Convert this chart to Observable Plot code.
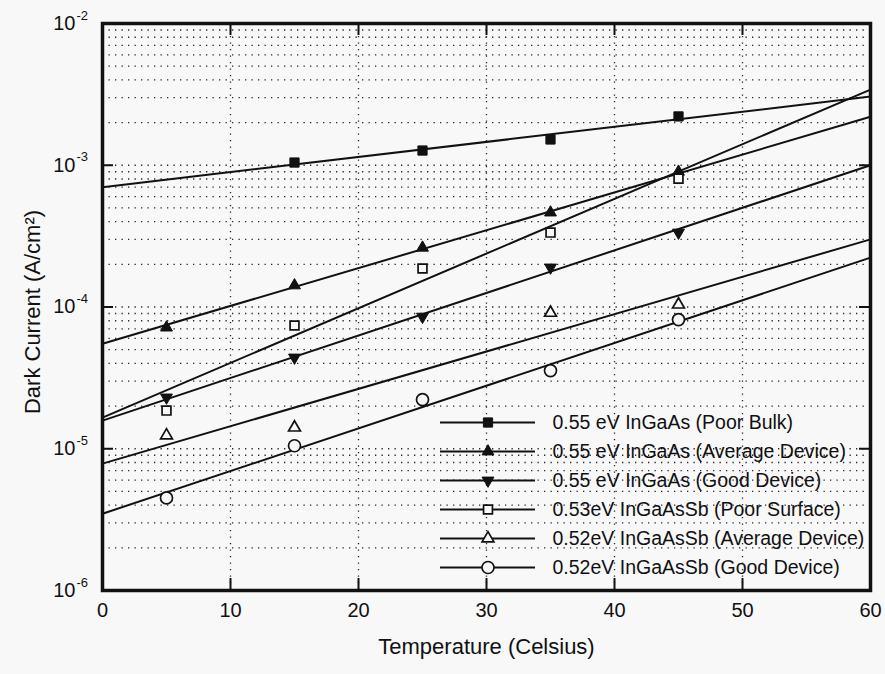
<!DOCTYPE html>
<html>
<head>
<meta charset="utf-8">
<script src="https://cdn.jsdelivr.net/npm/d3@7"></script>
<script src="https://cdn.jsdelivr.net/npm/@observablehq/plot@0.6"></script>
<style>
  html, body { margin: 0; padding: 0; background: #f8f8f8; }
  #wrap { position: relative; width: 885px; height: 674px; }
  #legend { position: absolute; left: 420px; top: 408px; }
  svg { font-family: "Liberation Sans", Arial, sans-serif; }
</style>
</head>
<body>
<div id="wrap"><div id="chart"></div><div id="legend"></div></div>
<script>
// ---- data ----
const temps = [5, 15, 25, 35, 45];
const seriesNames = [
  "0.55 eV InGaAs (Poor Bulk)",
  "0.55 eV InGaAs (Average Device)",
  "0.55 eV InGaAs (Good Device)",
  "0.53eV InGaAsSb (Poor Surface)",
  "0.52eV InGaAsSb (Average Device)",
  "0.52eV InGaAsSb (Good Device)"
];
const poorBulk      = [null,    1.045e-3, 1.27e-3, 1.52e-3, 2.21e-3];
const avgDevice     = [7.16e-5, 1.42e-4,  2.62e-4, 4.64e-4, 9.0e-4];
const goodDevice    = [2.3e-5,  4.4e-5,   8.55e-5, 1.9e-4,  3.35e-4];
const poorSurface   = [1.86e-5, 7.4e-5,   1.87e-4, 3.35e-4, 8.05e-4];
const avgSb         = [1.24e-5, 1.41e-5,  null,    9.1e-5,  1.04e-4];
const goodSb        = [4.5e-6,  1.05e-5,  2.22e-5, 3.56e-5, 8.15e-5];
// fitted lines: value at the left (0 °C) and right (60 °C) edge
const fitRange = [0, 60];
const fitStart = [7.0e-4, 5.5e-5, 1.58e-5, 1.66e-5, 7.85e-6, 3.48e-6];
const fitEnd   = [3.05e-3, 2.2e-3, 1.0e-3, 3.42e-3, 3.0e-4, 2.23e-4];
// marker styles
const symbols  = ["square", "triangle", "triangle", "square", "triangle", "circle"];
const rotates  = [0, 0, 180, 0, 0, 0];
const filled   = [true, true, true, false, false, false];
const radii    = [5.2, 4.4, 4.4, 5.0, 4.4, 6];
// axes
const xTicks = [0, 10, 20, 30, 40, 50, 60];
const xGrid = [10, 20, 30, 40, 50];
const decades = [1e-6, 1e-5, 1e-4, 1e-3, 1e-2];
const exponents = ["-6", "-5", "-4", "-3", "-2"];
const minor = [];
for (let e = -6; e < -2; e++) for (let m = 1; m <= 9; m++) minor.push(m * 10 ** e);
minor.push(1e-2);

const allSeries = [poorBulk, avgDevice, goodDevice, poorSurface, avgSb, goodSb];
const points = [];
allSeries.forEach((vals, i) => vals.forEach((v, j) => { if (v != null) points.push({s: i, x: temps[j], y: v}); }));
const fits = [];
fitStart.forEach((v, i) => { fits.push({s: i, x: fitRange[0], y: v}); fits.push({s: i, x: fitRange[1], y: fitEnd[i]}); });

const W = 885, H = 674, mL = 102, mR = 15, mT = 23, mB = 84;
const plotH = H - mT - mB, plotW = W - mL - mR;
const ink = "#111";
const bg = "#f8f8f8";

const marks = [
  Plot.gridY(minor, {stroke: ink, strokeOpacity: 0.9, strokeWidth: 1.3, strokeDasharray: "1.3,5.2"}),
  Plot.gridX(xGrid, {stroke: ink, strokeOpacity: 0.9, strokeWidth: 1.3, strokeDasharray: "1.3,5.2"}),
  Plot.line(fits, {x: "x", y: "y", z: "s", stroke: ink, strokeWidth: 2})
];
seriesNames.forEach((name, i) => {
  marks.push(Plot.dot(points.filter(d => d.s === i), {
    x: "x", y: "y", symbol: symbols[i], r: radii[i], rotate: rotates[i],
    fill: filled[i] ? ink : bg, stroke: ink, strokeWidth: filled[i] ? 1 : 1.7
  }));
});
marks.push(
  Plot.tickX(xGrid, {x: d => d, stroke: ink, strokeWidth: 2, insetTop: plotH - 12}),
  Plot.tickX(xGrid, {x: d => d, stroke: ink, strokeWidth: 2, insetBottom: plotH - 12}),
  Plot.tickY(decades.slice(1, 4), {y: d => d, stroke: ink, strokeWidth: 2, insetRight: plotW - 11}),
  Plot.tickY(decades.slice(1, 4), {y: d => d, stroke: ink, strokeWidth: 2, insetLeft: plotW - 11}),
  Plot.frame({stroke: ink, strokeWidth: 3.5}),
  Plot.text(xTicks, {x: d => d, text: d => String(d), frameAnchor: "bottom", dy: 26, fontSize: 20, fill: ink}),
  Plot.text(decades, {y: d => d, text: () => "10", frameAnchor: "left", textAnchor: "end", dx: -27, dy: 0, fontSize: 20, fill: ink}),
  Plot.text(decades, {y: d => d, text: (d, i) => exponents[i], frameAnchor: "left", textAnchor: "start", dx: -26, dy: -8, fontSize: 13, fill: ink}),
  Plot.text(["Temperature (Celsius)"], {frameAnchor: "bottom", text: d => d, textAnchor: "middle", dy: 63, fontSize: 22, fill: ink}),
  Plot.text(["Dark Current (A/cm²)"], {frameAnchor: "left", text: d => d, textAnchor: "middle", rotate: -90, dx: -70, dy: 5, fontSize: 22, fill: ink})
);

const chart = Plot.plot({
  width: W, height: H,
  marginLeft: mL, marginRight: mR, marginTop: mT, marginBottom: mB,
  style: {background: bg, fontFamily: "'Liberation Sans', Arial, sans-serif"},
  x: {domain: [0, 60], axis: null},
  y: {type: "log", domain: [1e-6, 1e-2], axis: null},
  marks
});
document.getElementById("chart").appendChild(chart);

// ---- legend (inside plot, lower right) ----
const legendRows = seriesNames.map((name, i) => ({name, i}));
const legendMarks = [
  Plot.ruleY(legendRows, {y: "name", x1: 0, x2: 100, stroke: ink, strokeWidth: 2})
];
legendRows.forEach(d => {
  legendMarks.push(Plot.dot([d], {
    x: 50, y: "name", symbol: symbols[d.i], r: radii[d.i], rotate: rotates[d.i],
    fill: filled[d.i] ? ink : bg, stroke: ink, strokeWidth: filled[d.i] ? 1 : 1.7
  }));
});
legendMarks.push(Plot.text(legendRows, {x: 100, y: "name", text: "name", textAnchor: "start", dx: 17, fontSize: 19.5, fill: ink}));
const legend = Plot.plot({
  width: 460, height: 175, margin: 0,
  style: {background: "transparent", fontFamily: "'Liberation Sans', Arial, sans-serif", overflow: "visible"},
  x: {domain: [0, 100], range: [20, 115], axis: null},
  y: {type: "point", domain: seriesNames, range: [14, 159], padding: 0, axis: null},
  marks: legendMarks
});
document.getElementById("legend").appendChild(legend);
</script>
</body>
</html>
